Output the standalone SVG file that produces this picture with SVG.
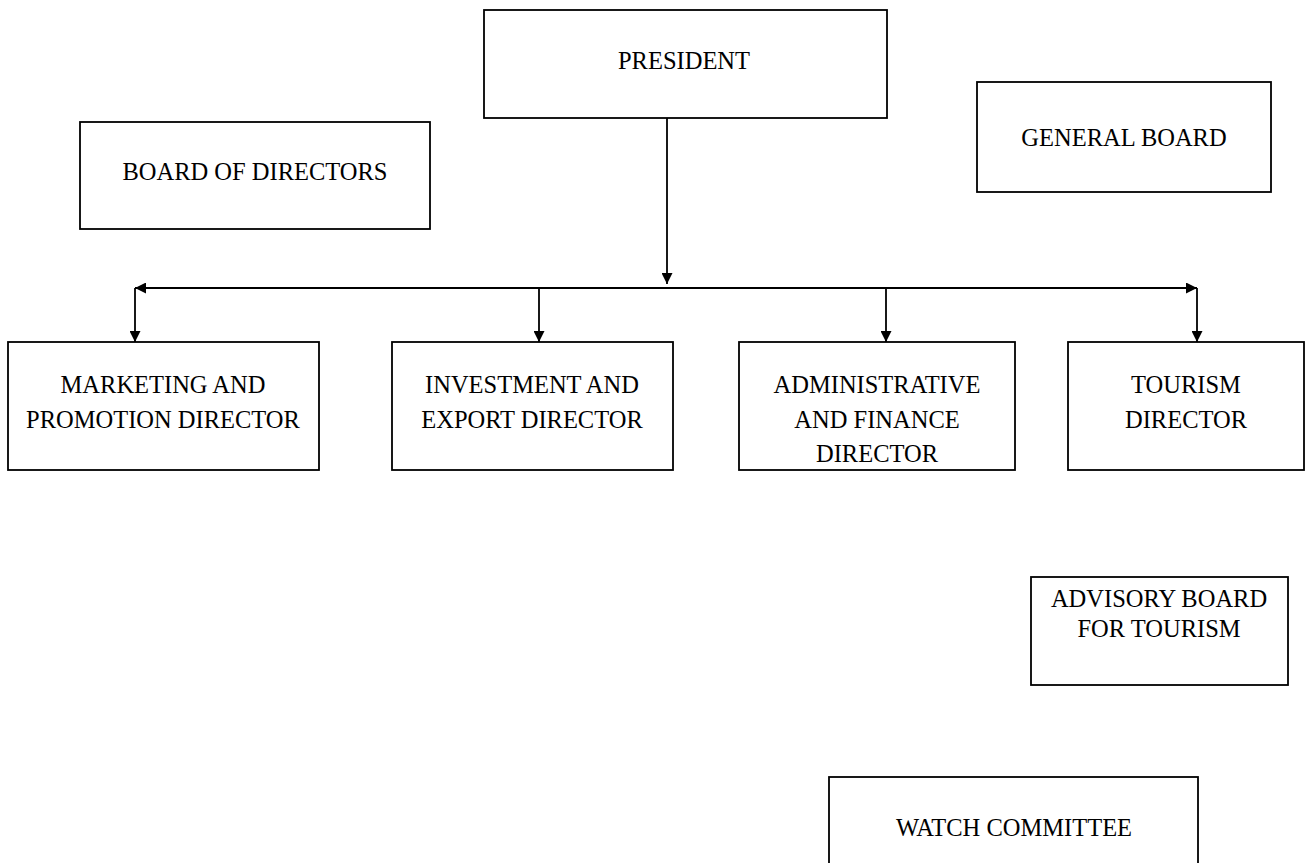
<svg xmlns="http://www.w3.org/2000/svg" width="1312" height="863" viewBox="0 0 1312 863">
<style>
.box{fill:#fff;stroke:#000;stroke-width:1.8}
.t{font-family:"Liberation Serif","Times New Roman",serif;font-size:24.5px;fill:#000;text-anchor:middle}
.c{fill:none;stroke:#000;stroke-width:1.8}
</style>
<defs>
<marker id="ah" viewBox="0 0 10 10" refX="10" refY="5" markerWidth="11" markerHeight="11" markerUnits="userSpaceOnUse" orient="auto">
<path d="M0,0 L10,5 L0,10 z" fill="#000"/>
</marker>
</defs>
<rect width="1312" height="863" fill="#fff"/>
<g id="connectors">
<line class="c" x1="667" y1="118" x2="667" y2="284" marker-end="url(#ah)"/>
<line class="c" x1="667" y1="288" x2="135" y2="288" marker-end="url(#ah)"/>
<line class="c" x1="667" y1="288" x2="1197" y2="288" marker-end="url(#ah)"/>
<line class="c" x1="135" y1="288" x2="135" y2="342" marker-end="url(#ah)"/>
<line class="c" x1="539" y1="288" x2="539" y2="342" marker-end="url(#ah)"/>
<line class="c" x1="886" y1="288" x2="886" y2="342" marker-end="url(#ah)"/>
<line class="c" x1="1197" y1="288" x2="1197" y2="342" marker-end="url(#ah)"/>
</g>
<g id="president">
<rect class="box" x="484" y="10" width="403" height="108"/>
<text class="t" x="684" y="69">PRESIDENT</text>
</g>
<g id="board-of-directors">
<rect class="box" x="80" y="122" width="350" height="107"/>
<text class="t" x="255" y="180">BOARD OF DIRECTORS</text>
</g>
<g id="general-board">
<rect class="box" x="977" y="82" width="294" height="110"/>
<text class="t" x="1124" y="146">GENERAL BOARD</text>
</g>
<g id="marketing">
<rect class="box" x="8" y="342" width="311" height="128"/>
<text class="t" x="163" y="393">MARKETING AND</text>
<text class="t" x="163" y="428">PROMOTION DIRECTOR</text>
</g>
<g id="investment">
<rect class="box" x="392" y="342" width="281" height="128"/>
<text class="t" x="532" y="393">INVESTMENT AND</text>
<text class="t" x="532" y="428">EXPORT DIRECTOR</text>
</g>
<g id="admin-finance">
<rect class="box" x="739" y="342" width="276" height="128"/>
<text class="t" x="877" y="393">ADMINISTRATIVE</text>
<text class="t" x="877" y="428">AND FINANCE</text>
<text class="t" x="877" y="462">DIRECTOR</text>
</g>
<g id="tourism">
<rect class="box" x="1068" y="342" width="236" height="128"/>
<text class="t" x="1186" y="393">TOURISM</text>
<text class="t" x="1186" y="428">DIRECTOR</text>
</g>
<g id="advisory-board">
<rect class="box" x="1031" y="577" width="257" height="108"/>
<text class="t" x="1159" y="607">ADVISORY BOARD</text>
<text class="t" x="1159" y="637">FOR TOURISM</text>
</g>
<g id="watch-committee">
<rect class="box" x="829" y="777" width="369" height="100"/>
<text class="t" x="1014" y="836">WATCH COMMITTEE</text>
</g>
</svg>
